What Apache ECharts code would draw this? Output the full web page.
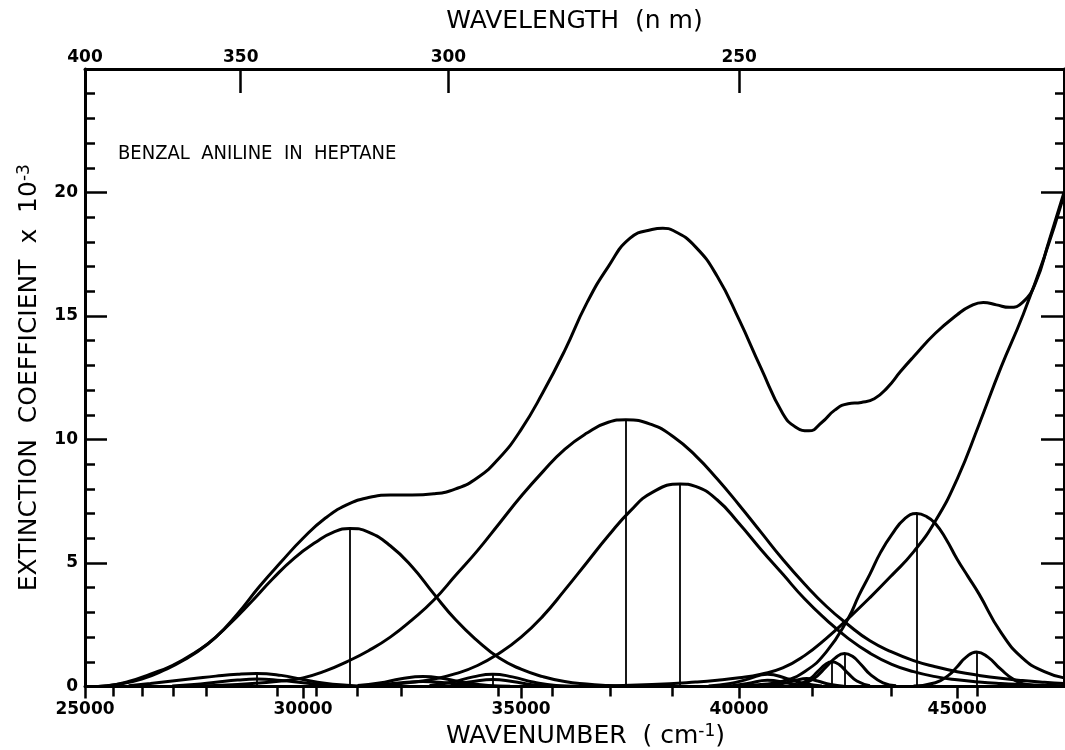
<!DOCTYPE html>
<html>
<head>
<meta charset="utf-8">
<title>Benzal aniline in heptane</title>
<script src="https://cdn.jsdelivr.net/npm/echarts@6/dist/echarts.min.js"></script>
<style>
  html, body { margin: 0; padding: 0; background: #fff; }
  #chart { width: 1065px; height: 750px; }
</style>
</head>
<body>
<div id="chart"></div>
<script>
// Absorption spectrum of benzal aniline in heptane and its band decomposition.
// Points are [wavenumber in cm^-1, extinction coefficient x 10^-3].

const envelope = [
  [25300, 0], [25500, 0.02], [26000, 0.2], [26500, 0.5], [27000, 0.85], [27500, 1.35],
  [28000, 2.0], [28500, 2.95], [29000, 4.05], [29500, 5.05], [30000, 6.0], [30500, 6.8],
  [31000, 7.35], [31500, 7.65], [32000, 7.75], [32500, 7.75], [33000, 7.8], [33500, 8.0],
  [34000, 8.45], [34500, 9.25], [35000, 10.4], [35500, 11.9], [36000, 13.6], [36500, 15.5],
  [37000, 17.0], [37500, 18.15], [38000, 18.5], [38250, 18.55], [38500, 18.45], [39000, 17.8],
  [39500, 16.6], [40000, 14.85], [40500, 12.9], [41000, 11.05], [41300, 10.5], [41600, 10.35],
  [41900, 10.7], [42200, 11.2], [42500, 11.45], [42800, 11.5], [43100, 11.65], [43400, 12.1],
  [43700, 12.75], [44000, 13.35], [44500, 14.3], [45000, 15.05], [45300, 15.4], [45600, 15.55],
  [45900, 15.45], [46200, 15.35], [46500, 15.55], [46800, 16.35], [47100, 18.0], [47450, 20.0]
];

// tail of the strong band lying beyond 47000 cm^-1
const farUvBand = [
  [37000, 0.02], [38000, 0.08], [39000, 0.18], [39500, 0.25], [40000, 0.35], [40500, 0.5],
  [41000, 0.75], [41500, 1.25], [42000, 1.95], [42500, 2.75], [43000, 3.6], [43500, 4.5],
  [44000, 5.45], [44500, 6.7], [45000, 8.4], [45500, 10.6], [46000, 12.9], [46500, 15.0],
  [47000, 17.4], [47450, 19.9]
];

const band31000 = [
  [25300, 0], [25800, 0.1], [26300, 0.3], [26800, 0.65], [27300, 1.1], [27800, 1.7],
  [28300, 2.5], [28800, 3.4], [29300, 4.35], [29800, 5.2], [30300, 5.85], [30700, 6.25],
  [31070, 6.4], [31500, 6.25], [32000, 5.7], [32500, 4.85], [33000, 3.75], [33500, 2.7],
  [34000, 1.85], [34500, 1.15], [35000, 0.7], [35500, 0.4], [36000, 0.2], [36500, 0.1],
  [37000, 0.04], [37500, 0]
];

const band37400 = [
  [27500, 0.02], [28000, 0.04], [28500, 0.08], [29000, 0.14], [29500, 0.22], [30000, 0.35],
  [30500, 0.62], [31000, 1.0], [31500, 1.45], [32000, 2.0], [32500, 2.7], [33000, 3.5],
  [33500, 4.5], [34000, 5.5], [34500, 6.6], [35000, 7.7], [35500, 8.7], [36000, 9.6],
  [36500, 10.25], [37000, 10.7], [37400, 10.8], [38000, 10.6], [38500, 10.1], [39000, 9.35],
  [39500, 8.4], [40000, 7.35], [40500, 6.25], [41000, 5.15], [41500, 4.15], [42000, 3.25],
  [42500, 2.5], [43000, 1.85], [43500, 1.4], [44000, 1.05], [44500, 0.8], [45000, 0.6],
  [45500, 0.45], [46000, 0.33], [46500, 0.24], [47000, 0.17], [47450, 0.12]
];

const band38650 = [
  [31500, 0.03], [32000, 0.08], [32500, 0.17], [33000, 0.3], [33500, 0.52], [34000, 0.85],
  [34500, 1.35], [35000, 2.0], [35500, 2.85], [36000, 3.9], [36500, 5.0], [37000, 6.1],
  [37500, 7.1], [38000, 7.85], [38650, 8.2], [39000, 8.1], [39500, 7.55], [40000, 6.6],
  [40500, 5.55], [41000, 4.55], [41500, 3.55], [42000, 2.7], [42500, 1.95], [43000, 1.35],
  [43500, 0.9], [44000, 0.6], [44500, 0.4], [45000, 0.27], [45500, 0.18], [46000, 0.12],
  [46500, 0.08], [47000, 0.05], [47450, 0.03]
];

const band44070 = [
  [40000, 0.03], [40500, 0.08], [41000, 0.22], [41500, 0.6], [42000, 1.4], [42500, 2.75],
  [42750, 3.7], [43000, 4.55], [43250, 5.45], [43500, 6.15], [43800, 6.8], [44070, 7.0],
  [44300, 6.88], [44500, 6.6], [44750, 5.95], [45000, 5.15], [45250, 4.45], [45500, 3.75],
  [46000, 2.2], [46500, 1.15], [47000, 0.6], [47450, 0.35]
];

const band45445 = [
  [44000, 0.02], [44500, 0.15], [44800, 0.45], [45000, 0.8], [45200, 1.18], [45445, 1.4],
  [45700, 1.2], [46000, 0.7], [46300, 0.28], [46600, 0.08], [47000, 0.01]
];

const band42415 = [
  [41400, 0.06], [41700, 0.3], [42000, 0.8], [42200, 1.15], [42415, 1.34], [42600, 1.22],
  [42800, 0.88], [43000, 0.5], [43300, 0.15], [43600, 0.03]
];

const band42130 = [
  [41300, 0.04], [41600, 0.28], [41800, 0.6], [42000, 0.92], [42130, 1.0], [42300, 0.88],
  [42500, 0.53], [42700, 0.22], [43000, 0.03]
];

const band40650 = [
  [39300, 0.02], [39800, 0.12], [40200, 0.3], [40650, 0.5], [41100, 0.32], [41500, 0.12], [41900, 0.02]
];
const band40650b = [
  [39800, 0.02], [40200, 0.12], [40650, 0.25], [41100, 0.14], [41500, 0.02]
];
const band41550 = [
  [40600, 0.02], [41000, 0.12], [41300, 0.25], [41550, 0.32], [41800, 0.22], [42100, 0.08], [42400, 0.01]
];

const band28930 = [
  [26000, 0.03], [26500, 0.12], [27000, 0.22], [27500, 0.32], [28000, 0.42], [28500, 0.5],
  [28930, 0.53], [29500, 0.45], [30000, 0.28], [30500, 0.13], [31000, 0.05], [31500, 0]
];
const band28930b = [
  [27000, 0.02], [27500, 0.08], [28000, 0.17], [28500, 0.26], [28930, 0.3], [29500, 0.24],
  [30000, 0.15], [30500, 0.06], [31000, 0.01]
];
const band32750 = [
  [31250, 0.04], [31750, 0.14], [32250, 0.31], [32750, 0.4], [33250, 0.31], [33750, 0.14],
  [34250, 0.04], [34750, 0.01]
];
const band32750b = [
  [31750, 0.05], [32250, 0.15], [32750, 0.2], [33250, 0.15], [33750, 0.05], [34250, 0.01]
];
const band34350 = [
  [32900, 0.04], [33400, 0.17], [33900, 0.39], [34350, 0.5], [34800, 0.39], [35300, 0.17],
  [35800, 0.04], [36300, 0.01]
];
const band34350b = [
  [33400, 0.06], [33900, 0.2], [34350, 0.28], [34800, 0.2], [35300, 0.06], [35800, 0.01]
];

// axis ticks
const wavenumberTicks = [25000, 30000, 35000, 40000, 45000];
const wavelengthMajor = [400, 350, 300, 250];
const wavelengthMinor = [390, 380, 370, 360, 340, 330, 320, 310, 290, 280, 270, 260, 240, 230, 220];
const extinctionMajor = [0, 5, 10, 15, 20];
const extinctionMinor = [1, 2, 3, 4, 6, 7, 8, 9, 11, 12, 13, 14, 16, 17, 18, 19, 21, 22, 23, 24];

// bands whose maximum is marked with a vertical line
const markedBands = [band28930, band31000, band34350, band37400, band38650,
                     band42130, band42415, band44070, band45445];

const curves = [envelope, farUvBand, band31000, band37400, band38650, band44070, band45445,
                band42415, band42130, band40650, band40650b, band41550,
                band28930, band28930b, band32750, band32750b, band34350, band34350b];

const X_MIN = 25000, X_MAX = 47450;
const INK = '#000';
const FONT = 'DejaVu Sans';
const nmToWavenumber = nm => 1e7 / nm;

const peakSegments = markedBands.map(b => {
  const top = b.reduce((m, p) => (p[1] > m[1] ? p : m), b[0]);
  return { coords: [[top[0], 0], [top[0], top[1]]] };
});

const tickLabel = { color: INK, fontFamily: FONT, fontWeight: 'bold', fontSize: 17 };
const titleRich = {
  t: { fontFamily: FONT, fontSize: 25, color: INK },
  s: { fontFamily: FONT, fontSize: 17, color: INK, verticalAlign: 'top', padding: [0, 0, 10, 0] }
};

const chart = echarts.init(document.getElementById('chart'));

chart.setOption({
  animation: false,
  backgroundColor: '#fff',
  title: {
    text: 'BENZAL  ANILINE  IN  HEPTANE',
    left: 113, top: 139,
    textStyle: { fontFamily: 'DejaVu Sans Condensed', fontSize: 20, fontWeight: 'normal', color: INK }
  },
  grid: { left: 85, right: 1, top: 69, bottom: 63.5, containLabel: false, outerBoundsMode: 'none' },
  xAxis: [
    {
      type: 'value', position: 'bottom', min: X_MIN, max: X_MAX,
      axisLine: { show: true, onZero: false, lineStyle: { color: INK, width: 3 } },
      axisTick: { show: true, inside: false, length: 12, customValues: wavenumberTicks,
                  lineStyle: { color: INK, width: 2.5 } },
      axisLabel: Object.assign({ customValues: wavenumberTicks, margin: 15, formatter: v => String(v) }, tickLabel),
      splitLine: { show: false },
      name: '{t|WAVENUMBER  ( cm}{s|-1}{t|)}',
      nameLocation: 'middle', nameGap: 34,
      nameTextStyle: { rich: titleRich, padding: [0, 0, 0, 22] }
    },
    {
      type: 'value', position: 'top', min: X_MIN, max: X_MAX,
      axisLine: { show: true, onZero: false, lineStyle: { color: INK, width: 3 } },
      axisTick: { show: true, inside: true, length: 24, customValues: wavelengthMajor.map(nmToWavenumber),
                  lineStyle: { color: INK, width: 2.5 } },
      axisLabel: Object.assign({
        customValues: wavelengthMajor.map(nmToWavenumber), margin: 3,
        formatter: v => String(Math.round(1e7 / v))
      }, tickLabel),
      splitLine: { show: false },
      name: 'WAVELENGTH  (n m)',
      nameLocation: 'middle', nameGap: 35,
      nameTextStyle: { fontFamily: FONT, fontSize: 25, color: INK }
    },
    {
      type: 'value', position: 'top', min: X_MIN, max: X_MAX,
      axisLine: { show: false },
      axisTick: { show: true, inside: true, length: 10, customValues: wavelengthMinor.map(nmToWavenumber),
                  lineStyle: { color: INK, width: 2.5 } },
      axisLabel: { show: false },
      splitLine: { show: false }
    }
  ],
  yAxis: [
    {
      type: 'value', position: 'left', min: 0, max: 25, interval: 5,
      axisLine: { show: true, lineStyle: { color: INK, width: 3 } },
      axisTick: { show: true, inside: true, length: 22, customValues: extinctionMajor,
                  lineStyle: { color: INK, width: 2.5 } },
      axisLabel: Object.assign({ customValues: extinctionMajor, margin: 7 }, tickLabel),
      splitLine: { show: false },
      name: '{t|EXTINCTION  COEFFICIENT  x  10}{s|-3}',
      nameLocation: 'middle', nameRotate: 90, nameGap: 42,
      nameTextStyle: { rich: titleRich }
    },
    {
      type: 'value', position: 'left', min: 0, max: 25,
      axisLine: { show: false },
      axisTick: { show: true, inside: true, length: 10, customValues: extinctionMinor,
                  lineStyle: { color: INK, width: 2.5 } },
      axisLabel: { show: false },
      splitLine: { show: false }
    },
    {
      type: 'value', position: 'right', min: 0, max: 25,
      axisLine: { show: true, lineStyle: { color: INK, width: 3 } },
      axisTick: { show: true, inside: true, length: 23, customValues: extinctionMajor,
                  lineStyle: { color: INK, width: 2.5 } },
      axisLabel: { show: false },
      splitLine: { show: false }
    },
    {
      type: 'value', position: 'right', min: 0, max: 25,
      axisLine: { show: false },
      axisTick: { show: true, inside: true, length: 9, customValues: extinctionMinor,
                  lineStyle: { color: INK, width: 2.5 } },
      axisLabel: { show: false },
      splitLine: { show: false }
    }
  ],
  series: curves.map(c => ({
    type: 'line', xAxisIndex: 0, yAxisIndex: 0, data: c,
    showSymbol: false, symbol: 'none', smooth: 0.5,
    lineStyle: { color: INK, width: 3 }, silent: true, z: 3
  })).concat([{
    type: 'lines', coordinateSystem: 'cartesian2d', xAxisIndex: 0, yAxisIndex: 0,
    data: peakSegments, silent: true, z: 2,
    lineStyle: { color: INK, width: 1.8, opacity: 1 }
  }])
});
</script>
</body>
</html>
